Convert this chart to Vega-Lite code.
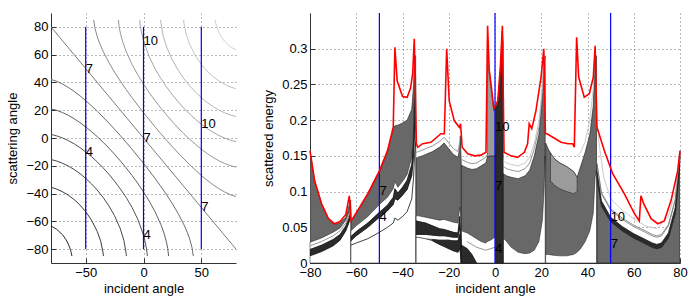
{
"$schema": "https://vega.github.io/schema/vega-lite/v6.json",
"padding": {"left": 6, "top": 12, "right": 10, "bottom": 2},
"bounds": "flush",
"spacing": 74,
"config": {
 "view": {"stroke": null},
 "font": "Liberation Sans",
 "axis": {"labelFont": "Liberation Sans", "titleFont": "Liberation Sans", "labelFontSize": 13, "titleFontSize": 13, "titleFontWeight": "normal", "labelColor": "#000", "titleColor": "#000", "domainColor": "#333", "domainWidth": 1, "ticks": true, "tickSize": -5, "tickColor": "#333", "grid": true, "gridColor": "#555", "gridDash": [1, 3], "gridWidth": 1, "gridOpacity": 0.8, "labelFlush": false, "labelOverlap": false, "labelBound": false},
 "axisX": {"labelPadding": 8, "titlePadding": 3},
 "axisY": {"labelPadding": 8, "titlePadding": 6}
},
"datasets": {
 "contours": [
  {"k":1,"x":-80,"y":-63.3},{"k":1,"x":-75,"y":-65.8},{"k":1,"x":-70,"y":-69.7},{"k":1,"x":-67,"y":-73.2},{"k":1,"x":-65,"y":-76.4},{"k":1,"x":-63,"y":-80.8},{"k":1,"x":-61.9,"y":-85},
  {"k":2,"x":-80,"y":-35.5},{"k":2,"x":-75,"y":-36.8},{"k":2,"x":-70,"y":-38.7},{"k":2,"x":-65,"y":-41.2},{"k":2,"x":-60,"y":-44.3},{"k":2,"x":-55,"y":-48.2},{"k":2,"x":-50,"y":-53.0},{"k":2,"x":-45,"y":-59.1},{"k":2,"x":-40,"y":-67.3},{"k":2,"x":-37,"y":-74.4},{"k":2,"x":-35,"y":-82.4},{"k":2,"x":-34.7,"y":-85},
  {"k":3,"x":-80,"y":-15.5},{"k":3,"x":-75,"y":-16.6},{"k":3,"x":-70,"y":-18.2},{"k":3,"x":-65,"y":-20.2},{"k":3,"x":-60,"y":-22.7},{"k":3,"x":-55,"y":-25.6},{"k":3,"x":-50,"y":-29.1},{"k":3,"x":-45,"y":-33.0},{"k":3,"x":-40,"y":-37.5},{"k":3,"x":-35,"y":-42.7},{"k":3,"x":-30,"y":-48.8},{"k":3,"x":-25,"y":-56.0},{"k":3,"x":-20,"y":-65.5},{"k":3,"x":-17,"y":-73.7},{"k":3,"x":-15,"y":-83.1},{"k":3,"x":-14.8,"y":-85},
  {"k":4,"x":-80,"y":2.6},{"k":4,"x":-75,"y":1.5},{"k":4,"x":-70,"y":0},{"k":4,"x":-65,"y":-1.9},{"k":4,"x":-60,"y":-4.2},{"k":4,"x":-55,"y":-6.9},{"k":4,"x":-50,"y":-10.0},{"k":4,"x":-45,"y":-13.4},{"k":4,"x":-40,"y":-17.2},{"k":4,"x":-35,"y":-21.4},{"k":4,"x":-30,"y":-26.0},{"k":4,"x":-25,"y":-31.1},{"k":4,"x":-20,"y":-36.7},{"k":4,"x":-15,"y":-42.8},{"k":4,"x":-10,"y":-49.9},{"k":4,"x":-5,"y":-58.4},{"k":4,"x":0,"y":-69.9},{"k":4,"x":2,"y":-77},{"k":4,"x":3,"y":-82.3},{"k":4,"x":3.3,"y":-85},
  {"k":5,"x":-80,"y":21.0},{"k":5,"x":-75,"y":19.9},{"k":5,"x":-70,"y":18.3},{"k":5,"x":-65,"y":16.3},{"k":5,"x":-60,"y":13.9},{"k":5,"x":-55,"y":11.1},{"k":5,"x":-50,"y":8.0},{"k":5,"x":-45,"y":4.6},{"k":5,"x":-40,"y":1.0},{"k":5,"x":-35,"y":-3.0},{"k":5,"x":-30,"y":-7.2},{"k":5,"x":-25,"y":-11.7},{"k":5,"x":-20,"y":-16.5},{"k":5,"x":-15,"y":-21.5},{"k":5,"x":-10,"y":-26.9},{"k":5,"x":-5,"y":-32.6},{"k":5,"x":0,"y":-38.8},{"k":5,"x":5,"y":-45.5},{"k":5,"x":10,"y":-53.1},{"k":5,"x":15,"y":-62.3},{"k":5,"x":18,"y":-69.2},{"k":5,"x":20,"y":-75.5},{"k":5,"x":21,"y":-79.7},{"k":5,"x":21.7,"y":-85},
  {"k":6,"x":-80,"y":42.2},{"k":6,"x":-75,"y":40.8},{"k":6,"x":-70,"y":38.8},{"k":6,"x":-65,"y":36.4},{"k":6,"x":-60,"y":33.6},{"k":6,"x":-55,"y":30.4},{"k":6,"x":-50,"y":26.9},{"k":6,"x":-45,"y":23.2},{"k":6,"x":-40,"y":19.3},{"k":6,"x":-35,"y":15.1},{"k":6,"x":-30,"y":10.8},{"k":6,"x":-25,"y":6.3},{"k":6,"x":-20,"y":1.7},{"k":6,"x":-15,"y":-3.1},{"k":6,"x":-10,"y":-8.0},{"k":6,"x":-5,"y":-13.1},{"k":6,"x":0,"y":-18.2},{"k":6,"x":5,"y":-23.6},{"k":6,"x":10,"y":-29.1},{"k":6,"x":15,"y":-34.9},{"k":6,"x":20,"y":-40.9},{"k":6,"x":25,"y":-47.4},{"k":6,"x":30,"y":-54.4},{"k":6,"x":35,"y":-62.5},{"k":6,"x":38,"y":-68.2},{"k":6,"x":40,"y":-72.9},{"k":6,"x":42,"y":-79.1},{"k":6,"x":43.1,"y":-85},
  {"k":7,"x":-80,"y":80},{"k":7,"x":0,"y":0},{"k":7,"x":80,"y":-80},
  {"k":8,"x":80,"y":-42.2},{"k":8,"x":75,"y":-40.8},{"k":8,"x":70,"y":-38.8},{"k":8,"x":65,"y":-36.4},{"k":8,"x":60,"y":-33.6},{"k":8,"x":55,"y":-30.4},{"k":8,"x":50,"y":-26.9},{"k":8,"x":45,"y":-23.2},{"k":8,"x":40,"y":-19.3},{"k":8,"x":35,"y":-15.1},{"k":8,"x":30,"y":-10.8},{"k":8,"x":25,"y":-6.3},{"k":8,"x":20,"y":-1.7},{"k":8,"x":15,"y":3.1},{"k":8,"x":10,"y":8.0},{"k":8,"x":5,"y":13.1},{"k":8,"x":0,"y":18.2},{"k":8,"x":-5,"y":23.6},{"k":8,"x":-10,"y":29.1},{"k":8,"x":-15,"y":34.9},{"k":8,"x":-20,"y":40.9},{"k":8,"x":-25,"y":47.4},{"k":8,"x":-30,"y":54.4},{"k":8,"x":-35,"y":62.5},{"k":8,"x":-38,"y":68.2},{"k":8,"x":-40,"y":72.9},{"k":8,"x":-42,"y":79.1},{"k":8,"x":-43.1,"y":85},
  {"k":9,"x":80,"y":-21.0},{"k":9,"x":75,"y":-19.9},{"k":9,"x":70,"y":-18.3},{"k":9,"x":65,"y":-16.3},{"k":9,"x":60,"y":-13.9},{"k":9,"x":55,"y":-11.1},{"k":9,"x":50,"y":-8.0},{"k":9,"x":45,"y":-4.6},{"k":9,"x":40,"y":-1.0},{"k":9,"x":35,"y":3.0},{"k":9,"x":30,"y":7.2},{"k":9,"x":25,"y":11.7},{"k":9,"x":20,"y":16.5},{"k":9,"x":15,"y":21.5},{"k":9,"x":10,"y":26.9},{"k":9,"x":5,"y":32.6},{"k":9,"x":0,"y":38.8},{"k":9,"x":-5,"y":45.5},{"k":9,"x":-10,"y":53.1},{"k":9,"x":-15,"y":62.3},{"k":9,"x":-18,"y":69.2},{"k":9,"x":-20,"y":75.5},{"k":9,"x":-21,"y":79.7},{"k":9,"x":-21.7,"y":85},
  {"k":10,"x":80,"y":-2.6},{"k":10,"x":75,"y":-1.5},{"k":10,"x":70,"y":0},{"k":10,"x":65,"y":1.9},{"k":10,"x":60,"y":4.2},{"k":10,"x":55,"y":6.9},{"k":10,"x":50,"y":10.0},{"k":10,"x":45,"y":13.4},{"k":10,"x":40,"y":17.2},{"k":10,"x":35,"y":21.4},{"k":10,"x":30,"y":26.0},{"k":10,"x":25,"y":31.1},{"k":10,"x":20,"y":36.7},{"k":10,"x":15,"y":42.8},{"k":10,"x":10,"y":49.9},{"k":10,"x":5,"y":58.4},{"k":10,"x":0,"y":69.9},{"k":10,"x":-2,"y":77},{"k":10,"x":-3,"y":82.3},{"k":10,"x":-3.3,"y":85},
  {"k":11,"x":80,"y":15.5},{"k":11,"x":75,"y":16.6},{"k":11,"x":70,"y":18.2},{"k":11,"x":65,"y":20.2},{"k":11,"x":60,"y":22.7},{"k":11,"x":55,"y":25.6},{"k":11,"x":50,"y":29.1},{"k":11,"x":45,"y":33.0},{"k":11,"x":40,"y":37.5},{"k":11,"x":35,"y":42.7},{"k":11,"x":30,"y":48.8},{"k":11,"x":25,"y":56.0},{"k":11,"x":20,"y":65.5},{"k":11,"x":17,"y":73.7},{"k":11,"x":15,"y":83.1},{"k":11,"x":14.8,"y":85},
  {"k":12,"x":80,"y":35.5},{"k":12,"x":75,"y":36.8},{"k":12,"x":70,"y":38.7},{"k":12,"x":65,"y":41.2},{"k":12,"x":60,"y":44.3},{"k":12,"x":55,"y":48.2},{"k":12,"x":50,"y":53.0},{"k":12,"x":45,"y":59.1},{"k":12,"x":40,"y":67.3},{"k":12,"x":37,"y":74.4},{"k":12,"x":35,"y":82.4},{"k":12,"x":34.7,"y":85},
  {"k":13,"x":80,"y":63.3},{"k":13,"x":75,"y":65.8},{"k":13,"x":70,"y":69.7},{"k":13,"x":67,"y":73.2},{"k":13,"x":65,"y":76.4},{"k":13,"x":63,"y":80.8},{"k":13,"x":61.9,"y":85}
 ],
 "lab1": [
  {"x":-50,"y":50,"t":"7"},{"x":-50,"y":-10,"t":"4"},{"x":0,"y":69.9,"t":"10"},{"x":0,"y":0,"t":"7"},{"x":0,"y":-69.9,"t":"4"},{"x":50,"y":10,"t":"10"},{"x":50,"y":-50,"t":"7"}
 ],
 "blue1": [{"x":-50,"y":-80,"y2":80},{"x":0,"y":-80,"y2":80},{"x":50,"y":-80,"y2":80}],
 "blue": [{"x":-50},{"x":0},{"x":50}],
 "lab2": [
  {"x":-50,"y":0.101,"t":"7"},{"x":-50,"y":0.064,"t":"4"},{"x":0,"y":0.19,"t":"10"},{"x":0,"y":0.108,"t":"7"},{"x":0,"y":0.02,"t":"4"},{"x":50,"y":0.064,"t":"10"},{"x":50,"y":0.027,"t":"7"}
 ],
 "bands": [
  {"s":"G1","c":"g","x":-80,"lo":0,"hi":0.157},{"s":"G1","c":"g","x":-78,"lo":0,"hi":0.115},{"s":"G1","c":"g","x":-75,"lo":0,"hi":0.083},{"s":"G1","c":"g","x":-72,"lo":0,"hi":0.062},{"s":"G1","c":"g","x":-69.5,"lo":0,"hi":0.054},{"s":"G1","c":"g","x":-67,"lo":0,"hi":0.056},{"s":"G1","c":"g","x":-64.5,"lo":0,"hi":0.064},{"s":"G1","c":"g","x":-63,"lo":0,"hi":0.082},{"s":"G1","c":"g","x":-62.4,"lo":0,"hi":0.088},
  {"s":"G2","c":"g","x":-62.3,"lo":0,"hi":0.057},{"s":"G2","c":"g","x":-60,"lo":0,"hi":0.07},{"s":"G2","c":"g","x":-55,"lo":0,"hi":0.095},{"s":"G2","c":"g","x":-50,"lo":0,"hi":0.127},{"s":"G2","c":"g","x":-46.5,"lo":0,"hi":0.155},{"s":"G2","c":"g","x":-44,"lo":0,"hi":0.188},{"s":"G2","c":"g","x":-43.3,"lo":0,"hi":0.192},{"s":"G2","c":"g","x":-42,"lo":0,"hi":0.193},{"s":"G2","c":"g","x":-40,"lo":0,"hi":0.196},{"s":"G2","c":"g","x":-38,"lo":0,"hi":0.2},{"s":"G2","c":"g","x":-36,"lo":0,"hi":0.215},{"s":"G2","c":"g","x":-35.2,"lo":0,"hi":0.25},{"s":"G2","c":"g","x":-34.8,"lo":0,"hi":0.29},{"s":"G2","c":"g","x":-34.3,"lo":0,"hi":0.29},
  {"s":"G3","c":"g","x":-34.1,"lo":0,"hi":0.147},{"s":"G3","c":"g","x":-33,"lo":0,"hi":0.148},{"s":"G3","c":"g","x":-30,"lo":0,"hi":0.152},{"s":"G3","c":"g","x":-27,"lo":0,"hi":0.156},{"s":"G3","c":"g","x":-24,"lo":0,"hi":0.162},{"s":"G3","c":"g","x":-22,"lo":0,"hi":0.168},{"s":"G3","c":"g","x":-20,"lo":0,"hi":0.16},{"s":"G3","c":"g","x":-18,"lo":0,"hi":0.152},{"s":"G3","c":"g","x":-16,"lo":0,"hi":0.148},{"s":"G3","c":"g","x":-15.3,"lo":0,"hi":0.16},{"s":"G3","c":"g","x":-15,"lo":0,"hi":0.178},{"s":"G3","c":"g","x":-14.6,"lo":0,"hi":0.14},
  {"s":"G4","c":"g","x":-14.5,"lo":0,"hi":0.137},{"s":"G4","c":"g","x":-12,"lo":0,"hi":0.133},{"s":"G4","c":"g","x":-10,"lo":0,"hi":0.131},{"s":"G4","c":"g","x":-8,"lo":0,"hi":0.132},{"s":"G4","c":"g","x":-6,"lo":0,"hi":0.136},{"s":"G4","c":"g","x":-4,"lo":0,"hi":0.14},{"s":"G4","c":"g","x":-3.3,"lo":0,"hi":0.148},{"s":"G4","c":"g","x":-2,"lo":0,"hi":0.15},{"s":"G4","c":"g","x":-1,"lo":0,"hi":0.15},{"s":"G4","c":"g","x":0,"lo":0,"hi":0.15},{"s":"G4","c":"g","x":0.3,"lo":0,"hi":0.15},
  {"s":"L4","c":"l","x":-3.3,"lo":0.148,"hi":0.31},{"s":"L4","c":"l","x":-2.5,"lo":0.15,"hi":0.262},{"s":"L4","c":"l","x":-1.7,"lo":0.15,"hi":0.245},{"s":"L4","c":"l","x":-0.5,"lo":0.15,"hi":0.213},{"s":"L4","c":"l","x":0.3,"lo":0.15,"hi":0.218},
  {"s":"K4b","c":"k","x":0.3,"lo":0,"hi":0.218},{"s":"K4b","c":"k","x":1.2,"lo":0,"hi":0.225},{"s":"K4b","c":"k","x":2.3,"lo":0,"hi":0.27},{"s":"K4b","c":"k","x":3.1,"lo":0,"hi":0.325},{"s":"K4b","c":"k","x":3.55,"lo":0,"hi":0.31},
  {"s":"G5","c":"g","x":3.6,"lo":0,"hi":0.125},{"s":"G5","c":"g","x":5,"lo":0,"hi":0.122},{"s":"G5","c":"g","x":7,"lo":0,"hi":0.12},{"s":"G5","c":"g","x":10,"lo":0,"hi":0.118},{"s":"G5","c":"g","x":13,"lo":0,"hi":0.122},{"s":"G5","c":"g","x":15,"lo":0,"hi":0.13},{"s":"G5","c":"g","x":17,"lo":0,"hi":0.15},{"s":"G5","c":"g","x":19,"lo":0,"hi":0.18},{"s":"G5","c":"g","x":20.5,"lo":0,"hi":0.23},{"s":"G5","c":"g","x":21.2,"lo":0,"hi":0.28},{"s":"G5","c":"g","x":21.7,"lo":0,"hi":0.29},
  {"s":"G6","c":"g","x":21.9,"lo":0,"hi":0.168},{"s":"G6","c":"g","x":23,"lo":0,"hi":0.16},{"s":"G6","c":"g","x":25,"lo":0,"hi":0.148},{"s":"G6","c":"g","x":28,"lo":0,"hi":0.14},{"s":"G6","c":"g","x":31,"lo":0,"hi":0.135},{"s":"G6","c":"g","x":34,"lo":0,"hi":0.128},{"s":"G6","c":"g","x":35.5,"lo":0,"hi":0.12},{"s":"G6","c":"g","x":37,"lo":0,"hi":0.135},{"s":"G6","c":"g","x":39,"lo":0,"hi":0.155},{"s":"G6","c":"g","x":41,"lo":0,"hi":0.18},{"s":"G6","c":"g","x":42.5,"lo":0,"hi":0.22},{"s":"G6","c":"g","x":43.3,"lo":0,"hi":0.29},{"s":"G6","c":"g","x":43.9,"lo":0,"hi":0.29},
  {"s":"L6","c":"l","x":24,"lo":0.115,"hi":0.154},{"s":"L6","c":"l","x":26,"lo":0.108,"hi":0.145},{"s":"L6","c":"l","x":28,"lo":0.104,"hi":0.14},{"s":"L6","c":"l","x":31,"lo":0.1,"hi":0.135},{"s":"L6","c":"l","x":34,"lo":0.097,"hi":0.128},{"s":"L6","c":"l","x":35.5,"lo":0.1,"hi":0.12},
  {"s":"G7","c":"g","x":44.1,"lo":0,"hi":0.12},{"s":"G7","c":"g","x":46,"lo":0,"hi":0.08},{"s":"G7","c":"g","x":50,"lo":0,"hi":0.058},{"s":"G7","c":"g","x":55,"lo":0,"hi":0.045},{"s":"G7","c":"g","x":60,"lo":0,"hi":0.035},{"s":"G7","c":"g","x":65,"lo":0,"hi":0.027},{"s":"G7","c":"g","x":68,"lo":0,"hi":0.022},{"s":"G7","c":"g","x":70,"lo":0,"hi":0.02},{"s":"G7","c":"g","x":72,"lo":0,"hi":0.022},{"s":"G7","c":"g","x":75,"lo":0,"hi":0.035},{"s":"G7","c":"g","x":78,"lo":0,"hi":0.07},{"s":"G7","c":"g","x":80,"lo":0,"hi":0.14},

  {"s":"W1a","c":"w","x":-80,"lo":0,"hi":0.010},{"s":"W1a","c":"w","x":-75,"lo":0,"hi":0.016},{"s":"W1a","c":"w","x":-70,"lo":0,"hi":0.024},{"s":"W1a","c":"w","x":-67,"lo":0,"hi":0.032},{"s":"W1a","c":"w","x":-64.5,"lo":0,"hi":0.045},{"s":"W1a","c":"w","x":-63,"lo":0,"hi":0.058},{"s":"W1a","c":"w","x":-62.4,"lo":0,"hi":0.07},
  {"s":"K1","c":"k","x":-80,"lo":0.010,"hi":0.019},{"s":"K1","c":"k","x":-75,"lo":0.016,"hi":0.025},{"s":"K1","c":"k","x":-70,"lo":0.024,"hi":0.033},{"s":"K1","c":"k","x":-67,"lo":0.032,"hi":0.04},{"s":"K1","c":"k","x":-64.5,"lo":0.045,"hi":0.052},{"s":"K1","c":"k","x":-63,"lo":0.058,"hi":0.064},{"s":"K1","c":"k","x":-62.4,"lo":0.07,"hi":0.075},
  {"s":"W1b","c":"w","x":-80,"lo":0.019,"hi":0.029},{"s":"W1b","c":"w","x":-75,"lo":0.025,"hi":0.035},{"s":"W1b","c":"w","x":-70,"lo":0.033,"hi":0.043},{"s":"W1b","c":"w","x":-67,"lo":0.04,"hi":0.049},{"s":"W1b","c":"w","x":-64.5,"lo":0.052,"hi":0.06},{"s":"W1b","c":"w","x":-63,"lo":0.064,"hi":0.072},{"s":"W1b","c":"w","x":-62.4,"lo":0.075,"hi":0.08},
  {"s":"W2a","c":"w","x":-62.3,"lo":0,"hi":0.031},{"s":"W2a","c":"w","x":-60,"lo":0,"hi":0.038},{"s":"W2a","c":"w","x":-55,"lo":0,"hi":0.05},{"s":"W2a","c":"w","x":-50,"lo":0,"hi":0.064},{"s":"W2a","c":"w","x":-46.5,"lo":0,"hi":0.073},{"s":"W2a","c":"w","x":-44,"lo":0,"hi":0.082},{"s":"W2a","c":"w","x":-43.3,"lo":0,"hi":0.09},{"s":"W2a","c":"w","x":-42,"lo":0,"hi":0.088},{"s":"W2a","c":"w","x":-40,"lo":0,"hi":0.095},{"s":"W2a","c":"w","x":-38,"lo":0,"hi":0.103},{"s":"W2a","c":"w","x":-36,"lo":0,"hi":0.122},{"s":"W2a","c":"w","x":-35.2,"lo":0,"hi":0.15},{"s":"W2a","c":"w","x":-34.8,"lo":0,"hi":0.18},{"s":"W2a","c":"w","x":-34.3,"lo":0,"hi":0.2},
  {"s":"K2","c":"k","x":-62.3,"lo":0.031,"hi":0.037},{"s":"K2","c":"k","x":-60,"lo":0.038,"hi":0.044},{"s":"K2","c":"k","x":-55,"lo":0.05,"hi":0.056},{"s":"K2","c":"k","x":-50,"lo":0.064,"hi":0.071},{"s":"K2","c":"k","x":-46.5,"lo":0.073,"hi":0.081},{"s":"K2","c":"k","x":-44,"lo":0.082,"hi":0.092},{"s":"K2","c":"k","x":-43.3,"lo":0.09,"hi":0.104},{"s":"K2","c":"k","x":-42,"lo":0.088,"hi":0.098},{"s":"K2","c":"k","x":-40,"lo":0.095,"hi":0.106},{"s":"K2","c":"k","x":-38,"lo":0.103,"hi":0.116},{"s":"K2","c":"k","x":-36,"lo":0.122,"hi":0.138},{"s":"K2","c":"k","x":-35.2,"lo":0.15,"hi":0.175},{"s":"K2","c":"k","x":-34.8,"lo":0.18,"hi":0.22},{"s":"K2","c":"k","x":-34.3,"lo":0.2,"hi":0.25},
  {"s":"W2b","c":"w","x":-62.3,"lo":0.037,"hi":0.045},{"s":"W2b","c":"w","x":-60,"lo":0.044,"hi":0.052},{"s":"W2b","c":"w","x":-55,"lo":0.056,"hi":0.065},{"s":"W2b","c":"w","x":-50,"lo":0.071,"hi":0.082},{"s":"W2b","c":"w","x":-46.5,"lo":0.081,"hi":0.092},{"s":"W2b","c":"w","x":-44,"lo":0.092,"hi":0.104},{"s":"W2b","c":"w","x":-43.3,"lo":0.104,"hi":0.114},{"s":"W2b","c":"w","x":-42,"lo":0.098,"hi":0.106},{"s":"W2b","c":"w","x":-40,"lo":0.106,"hi":0.114},{"s":"W2b","c":"w","x":-38,"lo":0.116,"hi":0.124},{"s":"W2b","c":"w","x":-36,"lo":0.138,"hi":0.148},{"s":"W2b","c":"w","x":-35.2,"lo":0.175,"hi":0.19},{"s":"W2b","c":"w","x":-34.8,"lo":0.22,"hi":0.24},{"s":"W2b","c":"w","x":-34.3,"lo":0.25,"hi":0.26},
  {"s":"W3a","c":"w","x":-34.1,"lo":0,"hi":0.036},{"s":"W3a","c":"w","x":-33,"lo":0,"hi":0.036},{"s":"W3a","c":"w","x":-30,"lo":0,"hi":0.034},{"s":"W3a","c":"w","x":-27,"lo":0,"hi":0.031},{"s":"W3a","c":"w","x":-24,"lo":0,"hi":0.026},{"s":"W3a","c":"w","x":-22,"lo":0,"hi":0.023},{"s":"W3a","c":"w","x":-20,"lo":0,"hi":0.02},{"s":"W3a","c":"w","x":-18,"lo":0,"hi":0.017},{"s":"W3a","c":"w","x":-16,"lo":0,"hi":0.015},{"s":"W3a","c":"w","x":-15.3,"lo":0,"hi":0.02},{"s":"W3a","c":"w","x":-15,"lo":0,"hi":0.015},{"s":"W3a","c":"w","x":-14.6,"lo":0,"hi":0},
  {"s":"K3a","c":"k","x":-27,"lo":0.031,"hi":0.033},{"s":"K3a","c":"k","x":-24,"lo":0.026,"hi":0.032},{"s":"K3a","c":"k","x":-22,"lo":0.023,"hi":0.032},{"s":"K3a","c":"k","x":-20,"lo":0.02,"hi":0.032},{"s":"K3a","c":"k","x":-18,"lo":0.017,"hi":0.031},{"s":"K3a","c":"k","x":-16,"lo":0.015,"hi":0.031},{"s":"K3a","c":"k","x":-15.3,"lo":0.02,"hi":0.04},{"s":"K3a","c":"k","x":-15,"lo":0.015,"hi":0.03},{"s":"K3a","c":"k","x":-14.6,"lo":0,"hi":0},
  {"s":"W3b","c":"w","x":-34.1,"lo":0.036,"hi":0.04},{"s":"W3b","c":"w","x":-33,"lo":0.036,"hi":0.04},{"s":"W3b","c":"w","x":-30,"lo":0.034,"hi":0.04},{"s":"W3b","c":"w","x":-27,"lo":0.033,"hi":0.039},{"s":"W3b","c":"w","x":-24,"lo":0.032,"hi":0.038},{"s":"W3b","c":"w","x":-22,"lo":0.032,"hi":0.038},{"s":"W3b","c":"w","x":-20,"lo":0.032,"hi":0.037},{"s":"W3b","c":"w","x":-18,"lo":0.031,"hi":0.036},{"s":"W3b","c":"w","x":-16,"lo":0.031,"hi":0.036},{"s":"W3b","c":"w","x":-15.3,"lo":0.04,"hi":0.05},{"s":"W3b","c":"w","x":-15,"lo":0.03,"hi":0.04},{"s":"W3b","c":"w","x":-14.6,"lo":0,"hi":0.02},
  {"s":"K3b","c":"k","x":-34.1,"lo":0.04,"hi":0.059},{"s":"K3b","c":"k","x":-33,"lo":0.04,"hi":0.058},{"s":"K3b","c":"k","x":-30,"lo":0.04,"hi":0.056},{"s":"K3b","c":"k","x":-27,"lo":0.039,"hi":0.052},{"s":"K3b","c":"k","x":-24,"lo":0.038,"hi":0.048},{"s":"K3b","c":"k","x":-22,"lo":0.038,"hi":0.047},{"s":"K3b","c":"k","x":-20,"lo":0.037,"hi":0.045},{"s":"K3b","c":"k","x":-18,"lo":0.036,"hi":0.043},{"s":"K3b","c":"k","x":-16,"lo":0.036,"hi":0.042},{"s":"K3b","c":"k","x":-15.3,"lo":0.05,"hi":0.065},{"s":"K3b","c":"k","x":-15,"lo":0.04,"hi":0.05},{"s":"K3b","c":"k","x":-14.6,"lo":0.02,"hi":0.03},
  {"s":"W3c","c":"w","x":-34.1,"lo":0.059,"hi":0.066},{"s":"W3c","c":"w","x":-33,"lo":0.058,"hi":0.066},{"s":"W3c","c":"w","x":-30,"lo":0.056,"hi":0.064},{"s":"W3c","c":"w","x":-27,"lo":0.052,"hi":0.062},{"s":"W3c","c":"w","x":-24,"lo":0.048,"hi":0.06},{"s":"W3c","c":"w","x":-22,"lo":0.047,"hi":0.061},{"s":"W3c","c":"w","x":-20,"lo":0.045,"hi":0.059},{"s":"W3c","c":"w","x":-18,"lo":0.043,"hi":0.057},{"s":"W3c","c":"w","x":-16,"lo":0.042,"hi":0.056},{"s":"W3c","c":"w","x":-15.3,"lo":0.065,"hi":0.078},{"s":"W3c","c":"w","x":-15,"lo":0.05,"hi":0.07},{"s":"W3c","c":"w","x":-14.6,"lo":0.03,"hi":0.045},
  {"s":"K4a","c":"k","x":-14.5,"lo":0,"hi":0.025},{"s":"K4a","c":"k","x":-12,"lo":0,"hi":0.02},{"s":"K4a","c":"k","x":-10,"lo":0,"hi":0.012},{"s":"K4a","c":"k","x":-8,"lo":0,"hi":0},
  {"s":"W4a","c":"w","x":-14.5,"lo":0.025,"hi":0.045},{"s":"W4a","c":"w","x":-12,"lo":0.02,"hi":0.042},{"s":"W4a","c":"w","x":-10,"lo":0.012,"hi":0.038},{"s":"W4a","c":"w","x":-8,"lo":0,"hi":0.034},{"s":"W4a","c":"w","x":-6,"lo":0,"hi":0.03},{"s":"W4a","c":"w","x":-4,"lo":0,"hi":0.028},{"s":"W4a","c":"w","x":-3.3,"lo":0,"hi":0.03},{"s":"W4a","c":"w","x":-2,"lo":0,"hi":0.032},{"s":"W4a","c":"w","x":-1,"lo":0,"hi":0.034},{"s":"W4a","c":"w","x":0,"lo":0,"hi":0.036},{"s":"W4a","c":"w","x":0.3,"lo":0,"hi":0.036},
  {"s":"W5a","c":"w","x":3.6,"lo":0,"hi":0.035},{"s":"W5a","c":"w","x":5,"lo":0,"hi":0.03},{"s":"W5a","c":"w","x":7,"lo":0,"hi":0.022},{"s":"W5a","c":"w","x":10,"lo":0,"hi":0.015},{"s":"W5a","c":"w","x":13,"lo":0,"hi":0.013},{"s":"W5a","c":"w","x":15,"lo":0,"hi":0.014},{"s":"W5a","c":"w","x":17,"lo":0,"hi":0.018},{"s":"W5a","c":"w","x":19,"lo":0,"hi":0.03},{"s":"W5a","c":"w","x":20.5,"lo":0,"hi":0.06},{"s":"W5a","c":"w","x":21.2,"lo":0,"hi":0.1},{"s":"W5a","c":"w","x":21.7,"lo":0,"hi":0.15},
  {"s":"W6a","c":"w","x":21.9,"lo":0,"hi":0.012},{"s":"W6a","c":"w","x":23,"lo":0,"hi":0.012},{"s":"W6a","c":"w","x":25,"lo":0,"hi":0.011},{"s":"W6a","c":"w","x":28,"lo":0,"hi":0.01},{"s":"W6a","c":"w","x":31,"lo":0,"hi":0.01},{"s":"W6a","c":"w","x":34,"lo":0,"hi":0.012},{"s":"W6a","c":"w","x":35.5,"lo":0,"hi":0.015},{"s":"W6a","c":"w","x":37,"lo":0,"hi":0.02},{"s":"W6a","c":"w","x":39,"lo":0,"hi":0.03},{"s":"W6a","c":"w","x":41,"lo":0,"hi":0.045},{"s":"W6a","c":"w","x":42.5,"lo":0,"hi":0.07},{"s":"W6a","c":"w","x":43.3,"lo":0,"hi":0.12},{"s":"W6a","c":"w","x":43.9,"lo":0,"hi":0.13},
  {"s":"K7","c":"k","x":44.1,"lo":0.12,"hi":0.128},{"s":"K7","c":"k","x":46,"lo":0.08,"hi":0.087},{"s":"K7","c":"k","x":50,"lo":0.058,"hi":0.064},{"s":"K7","c":"k","x":55,"lo":0.045,"hi":0.051},{"s":"K7","c":"k","x":60,"lo":0.035,"hi":0.041},{"s":"K7","c":"k","x":65,"lo":0.027,"hi":0.033},{"s":"K7","c":"k","x":68,"lo":0.022,"hi":0.028},{"s":"K7","c":"k","x":70,"lo":0.02,"hi":0.026},{"s":"K7","c":"k","x":72,"lo":0.022,"hi":0.028},{"s":"K7","c":"k","x":75,"lo":0.035,"hi":0.042},{"s":"K7","c":"k","x":78,"lo":0.07,"hi":0.078},{"s":"K7","c":"k","x":80,"lo":0.14,"hi":0.15},
  {"s":"W7","c":"w","x":44.1,"lo":0.128,"hi":0.138},{"s":"W7","c":"w","x":46,"lo":0.087,"hi":0.097},{"s":"W7","c":"w","x":50,"lo":0.064,"hi":0.074},{"s":"W7","c":"w","x":55,"lo":0.051,"hi":0.061},{"s":"W7","c":"w","x":60,"lo":0.041,"hi":0.051},{"s":"W7","c":"w","x":65,"lo":0.033,"hi":0.043},{"s":"W7","c":"w","x":68,"lo":0.028,"hi":0.038},{"s":"W7","c":"w","x":70,"lo":0.026,"hi":0.036},{"s":"W7","c":"w","x":72,"lo":0.028,"hi":0.038},{"s":"W7","c":"w","x":75,"lo":0.042,"hi":0.052},{"s":"W7","c":"w","x":78,"lo":0.078,"hi":0.088},{"s":"W7","c":"w","x":80,"lo":0.15,"hi":0.157}
 ],
 "lines": [
  {"id":"a1","c":"k","x":-62.3,"y":0.025},{"id":"a1","c":"k","x":-60,"y":0.028},{"id":"a1","c":"k","x":-55,"y":0.034},{"id":"a1","c":"k","x":-50,"y":0.043},{"id":"a1","c":"k","x":-46.5,"y":0.05},{"id":"a1","c":"k","x":-44,"y":0.056},{"id":"a1","c":"k","x":-43.3,"y":0.063},{"id":"a1","c":"k","x":-42,"y":0.06},{"id":"a1","c":"k","x":-40,"y":0.065},{"id":"a1","c":"k","x":-38,"y":0.072},{"id":"a1","c":"k","x":-36,"y":0.09},{"id":"a1","c":"k","x":-35.2,"y":0.12},{"id":"a1","c":"k","x":-34.8,"y":0.15},{"id":"a1","c":"k","x":-34.3,"y":0.17},
  {"id":"a2","c":"g","x":-80,"y":0.024},{"id":"a2","c":"g","x":-75,"y":0.030},{"id":"a2","c":"g","x":-70,"y":0.038},{"id":"a2","c":"g","x":-67,"y":0.045},{"id":"a2","c":"g","x":-64.5,"y":0.056},{"id":"a2","c":"g","x":-63,"y":0.068},{"id":"a2","c":"g","x":-62.4,"y":0.078},
  {"id":"a3","c":"g","x":-34.1,"y":0.155},{"id":"a3","c":"g","x":-33,"y":0.156},{"id":"a3","c":"g","x":-30,"y":0.16},{"id":"a3","c":"g","x":-27,"y":0.164},{"id":"a3","c":"g","x":-24,"y":0.17},{"id":"a3","c":"g","x":-22,"y":0.176},{"id":"a3","c":"g","x":-20,"y":0.168},{"id":"a3","c":"g","x":-18,"y":0.16},{"id":"a3","c":"g","x":-16,"y":0.156},{"id":"a3","c":"g","x":-15.3,"y":0.168},
  {"id":"a4","c":"g","x":-14.5,"y":0.145},{"id":"a4","c":"g","x":-12,"y":0.141},{"id":"a4","c":"g","x":-10,"y":0.139},{"id":"a4","c":"g","x":-8,"y":0.14},{"id":"a4","c":"g","x":-6,"y":0.144},{"id":"a4","c":"g","x":-4,"y":0.148},{"id":"a4","c":"g","x":-3.3,"y":0.152},
  {"id":"a5","c":"g","x":-12,"y":0.03},{"id":"a5","c":"g","x":-8,"y":0.022},{"id":"a5","c":"g","x":-4,"y":0.018},{"id":"a5","c":"g","x":0,"y":0.022},
  {"id":"a6","c":"g","x":3.6,"y":0.135},{"id":"a6","c":"g","x":5,"y":0.132},{"id":"a6","c":"g","x":7,"y":0.13},{"id":"a6","c":"g","x":10,"y":0.128},{"id":"a6","c":"g","x":13,"y":0.132},{"id":"a6","c":"g","x":15,"y":0.14},{"id":"a6","c":"g","x":17,"y":0.16},{"id":"a6","c":"g","x":19,"y":0.19},{"id":"a6","c":"g","x":20.5,"y":0.24},{"id":"a6","c":"g","x":21.2,"y":0.29},
  {"id":"a7","c":"l","x":3.6,"y":0.143},{"id":"a7","c":"l","x":5,"y":0.14},{"id":"a7","c":"l","x":7,"y":0.138},{"id":"a7","c":"l","x":10,"y":0.136},{"id":"a7","c":"l","x":13,"y":0.14},{"id":"a7","c":"l","x":15,"y":0.148},{"id":"a7","c":"l","x":17,"y":0.168},{"id":"a7","c":"l","x":19,"y":0.198},{"id":"a7","c":"l","x":20.5,"y":0.248},{"id":"a7","c":"l","x":21.2,"y":0.295},
  {"id":"a8","c":"l","x":35.5,"y":0.15},{"id":"a8","c":"l","x":37,"y":0.155},{"id":"a8","c":"l","x":39,"y":0.17},{"id":"a8","c":"l","x":41,"y":0.2},{"id":"a8","c":"l","x":42.5,"y":0.245},{"id":"a8","c":"l","x":43.2,"y":0.295},
  {"id":"a9","c":"g","x":44.1,"y":0.14},{"id":"a9","c":"g","x":46,"y":0.099},{"id":"a9","c":"g","x":50,"y":0.076},{"id":"a9","c":"g","x":55,"y":0.063},{"id":"a9","c":"g","x":60,"y":0.053},{"id":"a9","c":"g","x":65,"y":0.045},{"id":"a9","c":"g","x":68,"y":0.04},{"id":"a9","c":"g","x":70,"y":0.038},{"id":"a9","c":"g","x":72,"y":0.04},{"id":"a9","c":"g","x":75,"y":0.054},{"id":"a9","c":"g","x":78,"y":0.09},{"id":"a9","c":"g","x":80,"y":0.157},
  {"id":"a10","c":"l","x":44.5,"y":0.18},{"id":"a10","c":"l","x":47,"y":0.12},{"id":"a10","c":"l","x":50,"y":0.09},{"id":"a10","c":"l","x":55,"y":0.074},{"id":"a10","c":"l","x":60,"y":0.062},{"id":"a10","c":"l","x":65,"y":0.052},{"id":"a10","c":"l","x":70,"y":0.048},{"id":"a10","c":"l","x":75,"y":0.065},{"id":"a10","c":"l","x":78,"y":0.1},{"id":"a10","c":"l","x":80,"y":0.157}
 ],
 "red": [
  {"x":-80,"y":0.157},{"x":-78,"y":0.115},{"x":-75,"y":0.083},{"x":-72,"y":0.062},{"x":-69.5,"y":0.055},{"x":-67,"y":0.058},{"x":-64.5,"y":0.068},{"x":-63,"y":0.094},{"x":-62.2,"y":0.059},{"x":-59.5,"y":0.073},{"x":-55,"y":0.097},{"x":-50,"y":0.129},{"x":-46.5,"y":0.157},{"x":-44,"y":0.19},{"x":-43.3,"y":0.302},{"x":-42.3,"y":0.255},{"x":-40,"y":0.233},{"x":-38,"y":0.232},{"x":-36.5,"y":0.245},{"x":-35.6,"y":0.265},{"x":-34.9,"y":0.314},{"x":-34,"y":0.167},{"x":-33.4,"y":0.162},{"x":-31.3,"y":0.167},{"x":-27.7,"y":0.169},{"x":-23.4,"y":0.181},{"x":-21.9,"y":0.181},{"x":-20.9,"y":0.300},{"x":-19.8,"y":0.227},{"x":-17.6,"y":0.199},{"x":-15.4,"y":0.19},{"x":-14.9,"y":0.195},{"x":-14.2,"y":0.162},{"x":-11.8,"y":0.153},{"x":-8.9,"y":0.15},{"x":-6.1,"y":0.151},{"x":-3.9,"y":0.155},{"x":-3.2,"y":0.332},{"x":-2.5,"y":0.27},{"x":-1.7,"y":0.25},{"x":-0.5,"y":0.216},{"x":1.2,"y":0.227},{"x":2.3,"y":0.274},{"x":3.2,"y":0.332},{"x":3.9,"y":0.155},{"x":6.9,"y":0.15},{"x":9.8,"y":0.148},{"x":12.7,"y":0.155},{"x":14.1,"y":0.167},{"x":14.8,"y":0.195},{"x":15.9,"y":0.188},{"x":17.7,"y":0.213},{"x":19.9,"y":0.26},{"x":21.1,"y":0.300},{"x":21.8,"y":0.181},{"x":22.5,"y":0.181},{"x":25,"y":0.176},{"x":28.6,"y":0.169},{"x":31.5,"y":0.167},{"x":33.6,"y":0.167},{"x":34.3,"y":0.162},{"x":35.3,"y":0.316},{"x":36.2,"y":0.26},{"x":38.6,"y":0.232},{"x":40.8,"y":0.237},{"x":42.5,"y":0.26},{"x":43.3,"y":0.304},{"x":44.1,"y":0.19},{"x":47.3,"y":0.157},{"x":50.9,"y":0.125},{"x":55.9,"y":0.097},{"x":60.3,"y":0.069},{"x":62.4,"y":0.059},{"x":63.1,"y":0.094},{"x":64.3,"y":0.083},{"x":67.5,"y":0.062},{"x":70.4,"y":0.055},{"x":73.2,"y":0.059},{"x":76.1,"y":0.087},{"x":79,"y":0.129},{"x":80,"y":0.157}
 ]
},
"hconcat": [
 {
  "width": 185, "height": 250,
  "layer": [
   {"data": {"name": "contours"}, "mark": {"type": "line", "strokeWidth": 1, "clip": true},
    "encoding": {
     "x": {"field": "x", "type": "quantitative", "scale": {"domain": [-80, 80], "nice": false}, "axis": {"values": [-50, 0, 50], "title": "incident angle", "labelOverlap": false}},
     "y": {"field": "y", "type": "quantitative", "scale": {"domain": [-90, 90], "nice": false}, "axis": {"values": [-80, -60, -40, -20, 0, 20, 40, 60, 80], "title": "scattering angle", "labelOverlap": false}},
     "detail": {"field": "k", "type": "nominal"},
     "color": {"field": "k", "type": "quantitative", "scale": {"domain": [1, 13], "range": ["#2e2e2e", "#d2d2d2"]}, "legend": null}
    }},
   {"data": {"name": "blue1"}, "mark": {"type": "rule", "color": "#0000ff", "strokeWidth": 1.2},
    "encoding": {
     "x": {"field": "x", "type": "quantitative", "axis": {"values": [-50, 0, 50], "title": "incident angle", "labelOverlap": false}},
     "y": {"field": "y", "type": "quantitative", "axis": {"values": [-80, -60, -40, -20, 0, 20, 40, 60, 80], "title": "scattering angle", "labelOverlap": false}},
     "y2": {"field": "y2"}}},
   {"data": {"name": "lab1"}, "mark": {"type": "text", "align": "left", "baseline": "middle", "dx": 0, "fontSize": 13, "font": "Liberation Sans", "color": "#000"},
    "encoding": {
     "x": {"field": "x", "type": "quantitative", "axis": {"values": [-50, 0, 50], "title": "incident angle", "labelOverlap": false}},
     "y": {"field": "y", "type": "quantitative", "axis": {"values": [-80, -60, -40, -20, 0, 20, 40, 60, 80], "title": "scattering angle", "labelOverlap": false}},
     "text": {"field": "t"}}}
  ]
 },
 {
  "width": 370, "height": 250,
  "layer": [
   {"data": {"name": "bands"}, "transform": [{"filter": "datum.c === 'g'"}], "mark": {"type": "area", "color": "#686868", "stroke": "#1a1a1a", "strokeWidth": 0.6, "clip": true},
    "encoding": {
     "x": {"field": "x", "type": "quantitative", "scale": {"domain": [-80, 80], "nice": false}, "axis": {"values": [-80, -60, -40, -20, 0, 20, 40, 60, 80], "title": "incident angle"}},
     "y": {"field": "hi", "type": "quantitative", "scale": {"domain": [0, 0.35], "nice": false}, "axis": {"values": [0, 0.05, 0.1, 0.15, 0.2, 0.25, 0.3], "labelExpr": "format(datum.value, '~g')", "title": "scattered energy"}},
     "y2": {"field": "lo"},
     "detail": {"field": "s"}
    }},
   {"data": {"name": "bands"}, "transform": [{"filter": "datum.c === 'l'"}], "mark": {"type": "area", "color": "#9b9b9b", "stroke": "#1a1a1a", "strokeWidth": 0.5},
    "encoding": {"x": {"field": "x", "type": "quantitative"}, "y": {"field": "hi", "type": "quantitative"}, "y2": {"field": "lo"}, "detail": {"field": "s"}}},
   {"data": {"name": "bands"}, "transform": [{"filter": "datum.c === 'w'"}], "mark": {"type": "area", "color": "#ffffff", "stroke": "#1a1a1a", "strokeWidth": 0.5},
    "encoding": {"x": {"field": "x", "type": "quantitative"}, "y": {"field": "hi", "type": "quantitative"}, "y2": {"field": "lo"}, "detail": {"field": "s"}}},
   {"data": {"name": "bands"}, "transform": [{"filter": "datum.c === 'k'"}], "mark": {"type": "area", "color": "#2b2b2b", "stroke": "#111", "strokeWidth": 0.5},
    "encoding": {"x": {"field": "x", "type": "quantitative"}, "y": {"field": "hi", "type": "quantitative"}, "y2": {"field": "lo"}, "detail": {"field": "s"}}},
   {"data": {"name": "lines"}, "mark": {"type": "line", "strokeWidth": 0.8},
    "encoding": {"x": {"field": "x", "type": "quantitative"}, "y": {"field": "y", "type": "quantitative"}, "detail": {"field": "id"},
     "color": {"field": "c", "type": "nominal", "scale": {"domain": ["k", "g", "l"], "range": ["#111111", "#7a7a7a", "#bdbdbd"]}, "legend": null}}},
   {"data": {"name": "blue"}, "mark": {"type": "rule", "color": "#0000ff", "strokeWidth": 1.2},
    "encoding": {"x": {"field": "x", "type": "quantitative"}}},
   {"data": {"name": "red"}, "mark": {"type": "line", "color": "#ff0000", "strokeWidth": 1.6},
    "encoding": {"x": {"field": "x", "type": "quantitative"}, "y": {"field": "y", "type": "quantitative"}}},
   {"data": {"name": "lab2"}, "mark": {"type": "text", "align": "left", "baseline": "middle", "dx": 0, "fontSize": 13, "font": "Liberation Sans", "color": "#000"},
    "encoding": {"x": {"field": "x", "type": "quantitative"}, "y": {"field": "y", "type": "quantitative"}, "text": {"field": "t"}}}
  ]
 }
]
}
